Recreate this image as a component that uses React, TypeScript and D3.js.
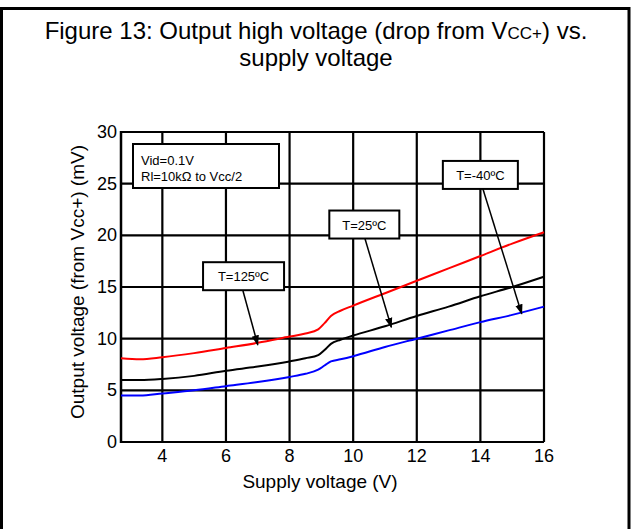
import React from 'react'
import * as d3 from 'd3'

const supplyV = [2.7, 3.3, 4, 5, 6, 7, 8, 8.5, 8.9, 9.1, 9.3, 9.6, 10, 11, 12, 13, 14, 15, 16]
const t125 = [8.1, 8.0, 8.2, 8.6, 9.1, 9.6, 10.2, 10.5, 10.9, 11.5, 12.2, 12.7, 13.2, 14.4, 15.6, 16.8, 18.0, 19.2, 20.3]
const t25 = [6.0, 6.0, 6.1, 6.4, 6.9, 7.3, 7.8, 8.1, 8.4, 8.9, 9.5, 9.9, 10.3, 11.2, 12.2, 13.1, 14.1, 15.0, 16.0]
const tm40 = [4.5, 4.5, 4.7, 5.0, 5.4, 5.8, 6.3, 6.6, 7.0, 7.4, 7.8, 8.0, 8.3, 9.2, 10.0, 10.8, 11.6, 12.3, 13.1]
const xTicks = [4, 6, 8, 10, 12, 14, 16]
const yTicks = [0, 5, 10, 15, 20, 25, 30]

const series = [
  { name: 'T=125ºC', values: t125, color: '#ff0000' },
  { name: 'T=25ºC', values: t25, color: '#000000' },
  { name: 'T=-40ºC', values: tm40, color: '#0000ff' },
]

// label boxes: box corner (data units), arrow start x, arrow tip (data units)
const labels = [
  { text: 'T=125ºC', bx: 5.28, by: 17.4, w: 81, tx: 7.0, ty: 9.4, ax: 6.53 },
  { text: 'T=25ºC', bx: 9.25, by: 22.4, w: 70, tx: 11.2, ty: 11.1, ax: 10.37 },
  { text: 'T=-40ºC', bx: 12.82, by: 27.2, w: 75, tx: 15.3, ty: 12.4, ax: 14.08 },
]

const font = 'Arial, "Liberation Sans", Helvetica, sans-serif'

export default function App() {
  const W = 632
  const H = 529
  const x = d3.scaleLinear().domain([2.7, 16]).range([121, 544])
  const y = d3.scaleLinear().domain([0, 30]).range([442, 132])

  const line = d3
    .line<number>()
    .x((_, i) => x(supplyV[i]))
    .y((d) => y(d))
    .curve(d3.curveMonotoneX)

  return (
    <svg width={W} height={H} style={{ position: 'absolute', left: 0, top: 0, background: '#fff' }} fontFamily={font}>
      <defs>
        <marker id="arr" viewBox="0 0 10 10" refX="9" refY="5" markerWidth="7" markerHeight="7" orient="auto">
          <path d="M0,1.5 L10,5 L0,8.5 z" fill="#000" />
        </marker>
      </defs>
      <path d={`M1.5,${H + 5} V8.5 H629 V${H + 5}`} fill="none" stroke="#000" strokeWidth={3} />

      <text x={316} y={39} textAnchor="middle" fontSize={24}>
        Figure 13: Output high voltage (drop from V
        <tspan fontSize={17}>CC+</tspan>
        ) vs.
      </text>
      <text x={316} y={66} textAnchor="middle" fontSize={24}>
        supply voltage
      </text>

      {/* grid */}
      {xTicks.map((t) => (
        <line key={'gx' + t} x1={x(t)} x2={x(t)} y1={y(30)} y2={y(0)} stroke="#000" strokeWidth={2.2} />
      ))}
      {yTicks.map((t) => (
        <line key={'gy' + t} x1={x(2.7)} x2={x(16)} y1={y(t)} y2={y(t)} stroke="#000" strokeWidth={2.2} />
      ))}
      <line x1={x(2.7)} x2={x(2.7)} y1={y(30) - 1} y2={y(0) + 1} stroke="#000" strokeWidth={2.5} />

      {/* tick labels */}
      {xTicks.map((t) => (
        <text key={'tx' + t} x={x(t)} y={y(0) + 20} textAnchor="middle" fontSize={18}>
          {t}
        </text>
      ))}
      {yTicks.map((t) => (
        <text key={'ty' + t} x={x(2.7) - 4} y={y(t) + 6} textAnchor="end" fontSize={18}>
          {t}
        </text>
      ))}
      <text x={320} y={488} textAnchor="middle" fontSize={19}>
        Supply voltage (V)
      </text>
      <text transform={`translate(84,282) rotate(-90)`} textAnchor="middle" fontSize={19}>
        Output voltage (from Vcc+) (mV)
      </text>

      {/* curves */}
      {series.map((s) => (
        <path key={s.name} d={line(s.values) || ''} fill="none" stroke={s.color} strokeWidth={2} />
      ))}

      {/* conditions box */}
      <rect x={133} y={144} width={146} height={44} fill="#fff" stroke="#000" strokeWidth={2} />
      <text x={141} y={165} fontSize={13}>Vid=0.1V</text>
      <text x={141} y={181} fontSize={13}>Rl=10kΩ to Vcc/2</text>

      {/* temperature labels */}
      {labels.map((l) => {
        const bx = x(l.bx)
        const by = y(l.by)
        return (
          <g key={l.text}>
            <line
              x1={x(l.ax)}
              y1={by + 28}
              x2={x(l.tx)}
              y2={y(l.ty)}
              stroke="#000"
              strokeWidth={1.5}
              markerEnd="url(#arr)"
            />
            <rect x={bx} y={by} width={l.w} height={28} fill="#fff" stroke="#000" strokeWidth={2} />
            <text x={bx + l.w / 2} y={by + 19} textAnchor="middle" fontSize={13}>
              {l.text}
            </text>
          </g>
        )
      })}
    </svg>
  )
}
